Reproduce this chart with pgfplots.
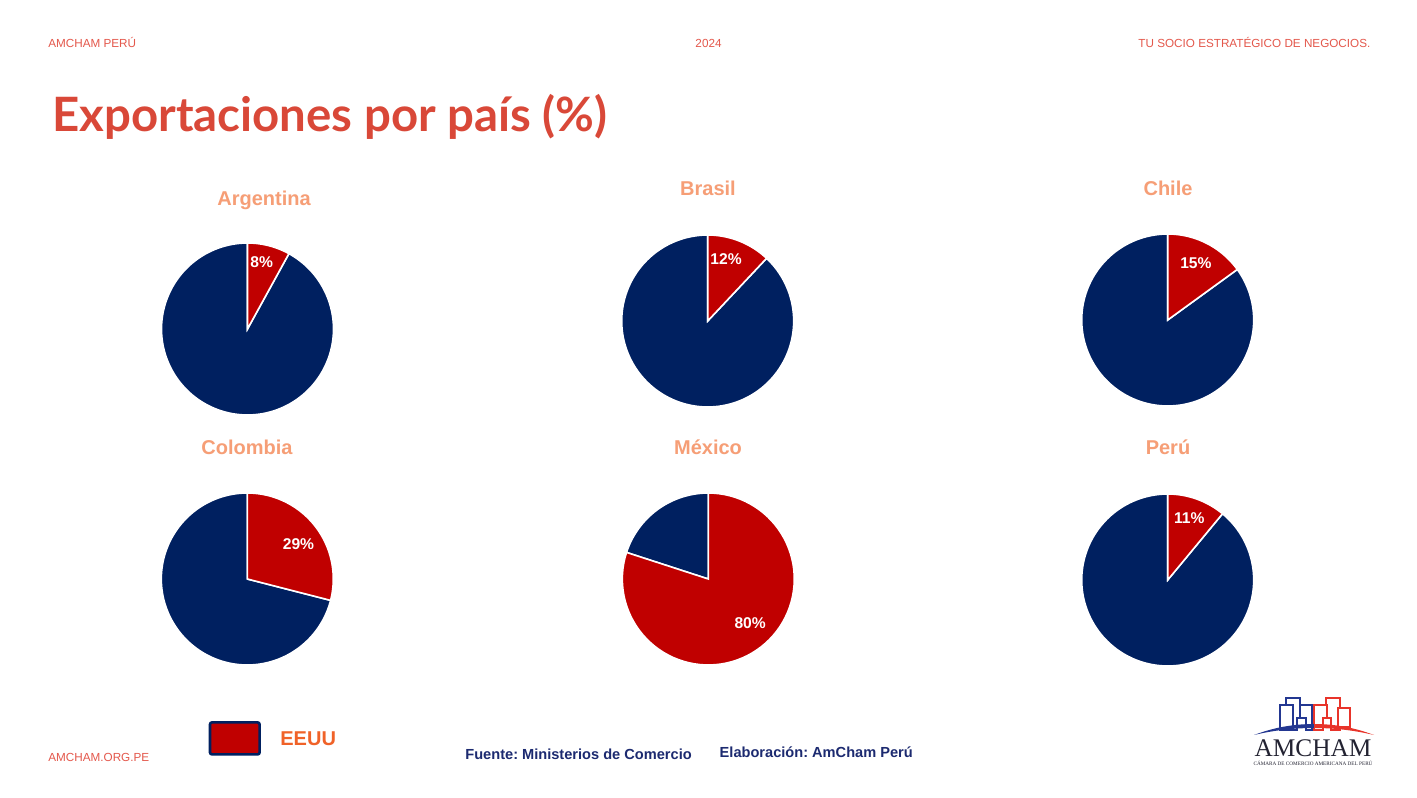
\documentclass[border=0pt]{standalone}
\usepackage{fontspec}
\setmainfont{Liberation Sans}
\newfontfamily\latof{Lato}
\newfontfamily\lserif{Liberation Serif}
\usepackage{pgfplots}
\pgfplotsset{compat=1.18}
\usepgfplotslibrary{polar}
\definecolor{hdr}{RGB}{228,88,76}
\definecolor{ttl}{RGB}{217,72,56}
\definecolor{ctry}{RGB}{246,158,118}
\definecolor{navy}{RGB}{0,32,96}
\definecolor{pred}{RGB}{192,0,0}
\definecolor{eeuu}{RGB}{240,98,40}
\definecolor{ftr}{RGB}{28,42,112}
\definecolor{lblue}{RGB}{35,55,145}
\definecolor{lred}{RGB}{232,52,42}
\definecolor{lgray}{RGB}{35,35,50}
\frenchspacing

% #1 x (pt), #2 y (pt), #3 share of EEUU (%), #4 label angle, #5 label radius
\newcommand{\pie}[5]{%
\begin{polaraxis}[at={(#1pt,#2pt)}, anchor=center, hide axis, scale only axis,
  width=86pt, height=86pt, ymin=0, ymax=1, clip=false]
\addplot[fill=navy, draw=white, line width=0.8pt, domain=-270:90-3.6*#3, samples=150] {1} -- (axis cs:0,0) -- cycle;
\addplot[fill=pred, draw=white, line width=0.8pt, domain=90-3.6*#3:90, samples=80] {1} -- (axis cs:0,0) -- cycle;
\node[text=white, inner sep=0pt, font=\bfseries\fontsize{7.8pt}{9pt}\selectfont] at (axis cs:#4,#5) {#3\%};
\end{polaraxis}}

\begin{document}
\frenchspacing
\begin{tikzpicture}[x=1pt,y=1pt]
\path[fill=white] (0,0) rectangle (708.5,398.5);

% header
\node[anchor=base west, inner sep=0pt, text=hdr, font=\fontsize{5.85pt}{7pt}\selectfont] at (24,374.5) {AMCHAM PERÚ};
\node[anchor=base, inner sep=0pt, text=hdr, font=\fontsize{5.85pt}{7pt}\selectfont] at (354.25,374.5) {2024};
\node[anchor=base east, inner sep=0pt, text=hdr, font=\fontsize{5.85pt}{7pt}\selectfont] at (685.35,374.5) {TU SOCIO ESTRATÉGICO DE NEGOCIOS.};

% title
\node[anchor=base west, inner sep=0pt, text=ttl] at (26,332.5) {\resizebox{277.5pt}{!}{\latof\bfseries\fontsize{20pt}{24pt}\selectfont Exportaciones por país (\%)}};

% pies
\pie{123.75}{234}{8}{77.9}{0.79}
\pie{353.85}{238}{12}{73.5}{0.75}
\pie{583.85}{238.5}{15}{63.7}{0.74}
\pie{123.65}{109}{29}{34.2}{0.72}
\pie{354.15}{109}{80}{-46.7}{0.71}
\pie{583.85}{108.5}{11}{70.7}{0.76}

% country titles
\begin{scope}[every node/.style={anchor=base, inner sep=0pt, text=ctry, font=\bfseries\fontsize{10pt}{12pt}\selectfont}]
\node at (132,295.5) {Argentina};
\node at (354,300.5) {Brasil};
\node at (584,300.5) {Chile};
\node at (123.5,171) {Colombia};
\node at (354,171) {México};
\node at (584,171) {Perú};
\end{scope}

% legend
\draw[navy, line width=1.3pt, fill=pred, rounded corners=1pt] (105,21.3) rectangle (129.8,37.3);
\node[anchor=base west, inner sep=0pt, text=eeuu, font=\bfseries\fontsize{10pt}{12pt}\selectfont] at (140,25.6) {EEUU};

% footer
\node[anchor=base west, inner sep=0pt, text=hdr, font=\fontsize{5.85pt}{7pt}\selectfont] at (24,18) {AMCHAM.ORG.PE};
\node[anchor=base west, inner sep=0pt, text=ftr, font=\bfseries\fontsize{7.3pt}{9pt}\selectfont] at (232.5,19) {Fuente: Ministerios de Comercio};
\node[anchor=base west, inner sep=0pt, text=ftr, font=\bfseries\fontsize{7.3pt}{9pt}\selectfont] at (359.65,19.75) {Elaboración: AmCham Perú};

% logo
\begin{scope}[x=0.5pt,y=0.5pt]
\begin{scope}[draw=lblue, line width=0.9pt, fill=white]
\filldraw (1286,67) rectangle (1300,99);
\filldraw (1280,67) rectangle (1293,92);
\filldraw (1300,67) rectangle (1312,92);
\filldraw (1297,64) rectangle (1306,79);
\end{scope}
\begin{scope}[draw=lred, line width=0.9pt, fill=white]
\filldraw (1326,67) rectangle (1340,99);
\filldraw (1314,67) rectangle (1327,92);
\filldraw (1338,70) rectangle (1350,89);
\filldraw (1323,64) rectangle (1331,79);
\end{scope}
\fill[white] (1250,58) rectangle (1378,66);
\fill[lblue] (1254,62) .. controls (1275,70) and (1295,73) .. (1314,73) -- (1314,69) .. controls (1295,69) and (1275,67) .. (1254,62) -- cycle;
\fill[lred] (1374,62) .. controls (1353,70) and (1333,73) .. (1314,73) -- (1314,69) .. controls (1333,69) and (1353,67) .. (1374,62) -- cycle;
\node[anchor=base, inner sep=0pt, text=lgray] at (1313,40) {\resizebox{58.5pt}{!}{\lserif\fontsize{12pt}{14pt}\selectfont AMCHAM}};
\node[anchor=base, inner sep=0pt, text=lgray] at (1313,32) {\resizebox{59.5pt}{!}{\lserif\fontsize{5pt}{6pt}\selectfont CÁMARA DE COMERCIO AMERICANA DEL PERÚ}};
\end{scope}
\end{tikzpicture}
\end{document}
